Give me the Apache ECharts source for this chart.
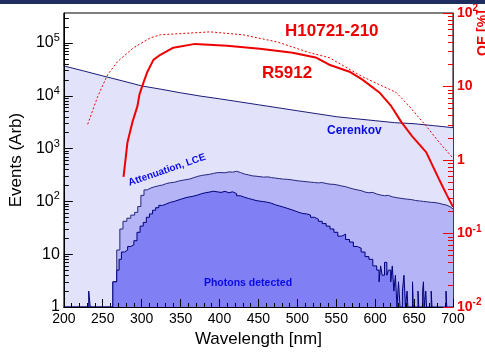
<!DOCTYPE html>
<html><head><meta charset="utf-8">
<script src="https://cdn.jsdelivr.net/npm/echarts@6/dist/echarts.min.js"></script>
<style>html,body{margin:0;padding:0;background:#fff}#c{width:485px;height:353px}</style>
</head><body><div id="c"></div>
<script>
// ---- data ----
const xTicks = [200,250,300,350,400,450,500,550,600,650,700];
const eventsMajor = [1,10,100,1000,10000,100000];
const eventsMinor = [2,3,4,5,6,7,8,9,20,30,40,50,60,70,80,90,200,300,400,500,600,700,800,900,2000,3000,4000,5000,6000,7000,8000,9000,20000,30000,40000,50000,60000,70000,80000,90000,200000,300000];
const qeMajor = [0.01,0.1,1,10,100];
const qeMinor = [0.02,0.03,0.04,0.05,0.06,0.07,0.08,0.09,0.2,0.3,0.4,0.5,0.6,0.7,0.8,0.9,2,3,4,5,6,7,8,9,20,30,40,50,60,70,80,90];

// Cerenkov spectrum [wavelength nm, events]
const cerenkov = [[200,36800],[225,29700],[250,23800],[275,19200],[300,15400],[325,13300],[350,11400],[375,9900],[400,8770],[425,7700],[450,6760],[475,5940],[500,5210],[525,4580],[550,4020],[575,3680],[600,3380],[625,3100],[650,2960],[675,2720],[700,2490]];
// After attenuation & LCE [bin low edge nm, events]
const attenuation = [[200,1],[263,3],[268,12],[272,30],[276,42],[281,48],[286,55],[291,62],[295,80],[299,130],[303,165],[307,180],[312,190],[317,198],[322,205],[327,218],[332,226],[337,230],[342,242],[347,250],[352,258],[357,266],[362,282],[367,298],[372,310],[377,318],[382,325],[387,338],[392,350],[397,352],[402,348],[407,362],[412,358],[417,372],[422,352],[427,330],[432,318],[437,305],[442,300],[447,294],[452,288],[457,292],[462,282],[467,276],[472,270],[477,264],[482,262],[487,257],[492,250],[497,244],[502,240],[507,236],[512,231],[517,228],[522,224],[527,228],[532,218],[537,212],[542,210],[547,204],[552,196],[557,190],[562,180],[567,172],[572,165],[577,160],[582,150],[587,146],[592,148],[597,138],[602,132],[607,128],[612,130],[617,122],[622,118],[627,115],[632,112],[637,110],[642,108],[647,104],[652,102],[657,100],[662,98],[667,96],[672,95],[677,92],[682,88],[687,85],[692,78],[697,72],[700,72]];
// Photons detected [bin low edge nm, events]
const photons = [[200,1],[232,2],[234,1],[263,3],[268,5],[271,8],[274,11],[278,12],[282,14],[286,15],[290,18],[294,26],[298,34],[302,40],[306,50],[310,58],[314,68],[318,76],[322,84],[327,90],[332,96],[337,100],[342,106],[347,112],[352,118],[357,122],[362,126],[367,132],[372,140],[377,146],[382,150],[387,156],[392,152],[397,148],[402,155],[407,146],[412,152],[417,140],[422,128],[427,120],[432,114],[437,109],[442,104],[447,101],[452,99],[457,96],[462,92],[467,86],[472,82],[477,78],[482,74],[487,70],[492,66],[497,62],[502,59],[507,58],[512,55],[517,50],[522,46],[527,42],[532,38],[537,34],[542,30],[547,26],[552,22],[557,24],[562,19],[567,17],[572,14],[577,13],[582,11],[587,9],[592,8],[597,6],[602,5],[605,3],[607,6],[609,4],[612,7],[615,4],[617,5],[620,3],[622,6],[624,2],[626,4],[628,1],[630,3],[632,1],[635,2],[637,4],[639,1],[641,2],[642,1],[648,3],[649,1],[655,2],[656,1],[661,2],[662,3],[663,1],[665,2],[666,1],[672,2],[673,1],[691,2],[692,1],[700,1]];
// QE curves [wavelength nm, QE %]
const qeR5912 = [[276.7,0.59],[281.8,1.75],[288.2,3.3],[294.6,5.4],[297.2,7.8],[302.3,11.3],[307.4,15.9],[315.1,23],[324,27],[340.7,33.7],[368.8,38],[409.7,35.8],[451.9,32.6],[494,28.8],[524.8,24.6],[541,19.8],[567,15.9],[583.6,12.4],[605.4,8.3],[620.7,5.4],[633.5,3.3],[647.6,2.1],[665.5,1.28],[682,0.55],[686,0.45],[692.3,0.33],[700,0.23]];
const qeH10721 = [[230.7,3.06],[243.5,7.3],[256.3,14.5],[269,21.8],[289.5,33.6],[311,45.8],[324,50.5],[366,53.7],[388,55.4],[430,50.5],[473.7,40.5],[515.9,28.8],[541,24.7],[583.6,13.6],[605.4,10.6],[627,8.3],[643.7,5.4],[665.5,2.9],[682,1.75],[698.7,1.1]];

const FONT = '"Liberation Sans", Arial, Helvetica, sans-serif';
const RED = '#ee0000', BLUE = '#0a0ae6';

function powLabel(v){
  const e = Math.round(Math.log10(v));
  if (e === 0) return '{b|1}';
  if (e === 1) return '{b|10}';
  return '{b|10}{s|' + e + '}';
}

const chart = echarts.init(document.getElementById('c'), null, {renderer:'canvas'});
chart.setOption({
  animation:false,
  backgroundColor:'#fff',
  grid:{left:63,right:32,top:13,bottom:45,show:true,borderColor:'#000',borderWidth:1,backgroundColor:'transparent'},
  xAxis:{type:'value',min:200,max:700,interval:50,
    name:'Wavelength [nm]',nameLocation:'middle',nameGap:24,
    nameTextStyle:{fontSize:17,fontFamily:FONT,color:'#000'},
    axisLine:{lineStyle:{color:'#000',width:1}},
    axisTick:{inside:true,length:8,lineStyle:{color:'#000'}},
    minorTick:{show:true,splitNumber:5,length:4,lineStyle:{color:'#000'}},
    axisLabel:{fontSize:14,fontFamily:FONT,color:'#000',margin:5,showMinLabel:true,showMaxLabel:true},
    splitLine:{show:false},z:10},
  yAxis:[
    {type:'log',logBase:10,min:1,max:370000,position:'left',
     name:'Events (Arb)',nameLocation:'middle',nameGap:29,nameRotate:90,
     nameTextStyle:{fontSize:17,fontFamily:FONT,color:'#000'},
     axisLine:{show:true,lineStyle:{color:'#000'}},
     axisTick:{inside:true,length:9,customValues:eventsMajor,lineStyle:{color:'#000'}},
     axisLabel:{customValues:eventsMajor,formatter:powLabel,margin:4,
       rich:{b:{fontSize:16,fontFamily:FONT,color:'#000'},s:{fontSize:11,fontFamily:FONT,color:'#000',padding:[0,0,10,0]}}},
     splitLine:{show:false},z:10},
    {type:'log',logBase:10,min:1,max:370000,position:'left',
     axisLine:{show:false},axisLabel:{show:false},
     axisTick:{inside:true,length:5,customValues:eventsMinor,lineStyle:{color:'#000'}},
     splitLine:{show:false},z:10},
    {type:'log',logBase:10,min:0.01,max:100,position:'right',
     axisLine:{show:true,lineStyle:{color:'#cc0000',width:1}},
     axisTick:{inside:true,length:10,customValues:qeMajor,lineStyle:{color:RED}},
     axisLabel:{customValues:qeMajor,formatter:powLabel,margin:4,
       rich:{b:{fontSize:14,fontWeight:'bold',fontFamily:FONT,color:RED},s:{fontSize:10,fontWeight:'bold',fontFamily:FONT,color:RED,padding:[0,0,9,0]}}},
     splitLine:{show:false},z:10},
    {type:'log',logBase:10,min:0.01,max:100,position:'right',
     axisLine:{show:false},axisLabel:{show:false},
     axisTick:{inside:true,length:5,customValues:qeMinor,lineStyle:{color:RED}},
     splitLine:{show:false},z:10}
  ],
  series:[
    {name:'Cerenkov',type:'line',yAxisIndex:0,data:cerenkov,showSymbol:false,
     lineStyle:{color:'#1c1c78',width:1},areaStyle:{color:'#e2e2fb',opacity:1,origin:'start'},z:1},
    {name:'Attenuation',type:'line',step:'end',yAxisIndex:0,data:attenuation,showSymbol:false,
     lineStyle:{color:'#26267e',width:1},areaStyle:{color:'#b4b4f6',opacity:1,origin:'start'},z:2},
    {name:'Photons',type:'line',step:'end',yAxisIndex:0,data:photons,showSymbol:false,
     lineStyle:{color:'#000078',width:1},areaStyle:{color:'#8080f4',opacity:1,origin:'start'},z:3},
    {name:'R5912',type:'line',yAxisIndex:2,data:qeR5912,showSymbol:false,
     lineStyle:{color:RED,width:2},z:5},
    {name:'H10721-210',type:'line',yAxisIndex:2,data:qeH10721,showSymbol:false,
     lineStyle:{color:RED,width:1,type:[2,2]},z:5}
  ],
  graphic:[
    {type:'rect',shape:{x:0,y:0,width:485,height:4},style:{fill:'#1f2d5e'},z:100},
    {type:'text',x:285,y:31,style:{text:'H10721-210',fill:RED,font:'bold 17px '+FONT,textVerticalAlign:'middle'},z:100},
    {type:'text',x:262,y:73,style:{text:'R5912',fill:RED,font:'bold 17px '+FONT,textVerticalAlign:'middle'},z:100},
    {type:'text',x:327,y:131,style:{text:'Cerenkov',fill:BLUE,font:'bold 12px '+FONT,textVerticalAlign:'middle'},z:100},
    {type:'text',x:167,y:170,rotation:19*Math.PI/180,style:{text:'Attenuation, LCE',fill:BLUE,font:'bold 10px '+FONT,textAlign:'center',textVerticalAlign:'middle'},z:100},
    {type:'text',x:248,y:283,style:{text:'Photons detected',fill:BLUE,font:'bold 10.5px '+FONT,textAlign:'center',textVerticalAlign:'middle'},z:100},
    {type:'text',x:483,y:56,rotation:Math.PI/2,style:{text:'QE [%]',fill:RED,font:'bold 14px '+FONT,textAlign:'left',textVerticalAlign:'middle'},z:99}
  ]
});
</script></body></html>
